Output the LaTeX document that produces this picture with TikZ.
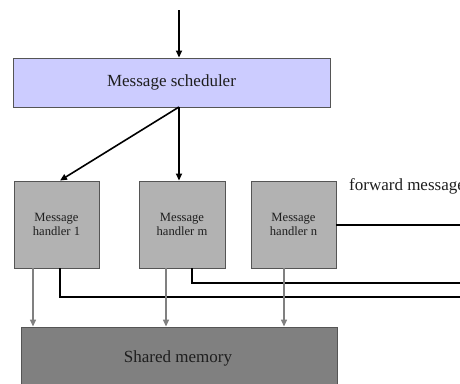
\documentclass[tikz,border=0pt]{standalone}
\usepackage{fontspec}
\setmainfont{Liberation Serif}
\usetikzlibrary{arrows.meta,calc}
\definecolor{schedfill}{RGB}{204,204,255}
\definecolor{handfill}{RGB}{178,178,178}
\definecolor{memfill}{RGB}{128,128,128}
\definecolor{edge}{RGB}{85,85,85}
\definecolor{txt}{RGB}{30,30,30}
\tikzset{
  box/.style={draw=edge, line width=0.9pt, minimum width=#1, inner sep=0pt, text=txt, align=center},
  handler/.style={box=85pt, minimum height=87pt, fill=handfill, font=\fontsize{12.6}{14}\selectfont},
  ctl/.style={line width=1.6pt, black, -{Triangle[length=7pt,width=6pt]}},
  fwd/.style={line width=1.6pt, black},
  mem/.style={line width=1.4pt, gray, -{Triangle[length=7pt,width=6pt]}},
}
\begin{document}
\begin{tikzpicture}[x=1pt,y=-1pt]
\useasboundingbox (0,0) rectangle (460,383);
\clip (0,0) rectangle (460,383);

% scheduler and handlers
\node[box=317pt, minimum height=49pt, fill=schedfill, font=\fontsize{17}{20}\selectfont] (sched) at (171.5,82.5) {Message scheduler};
\node[handler] (h1) at (56.5,224.5) {Message\\handler 1};
\node[handler, minimum width=86pt] (hm) at (182,224.5) {Message\\handler m};
\node[handler] (hn) at (293.5,224.5) {Message\\handler n};
\node[box=316pt, minimum height=68pt, fill=memfill, font=\fontsize{17}{20}\selectfont, text depth=0pt] (shm) at (179,361) {};
\node[text=txt, font=\fontsize{17}{20}\selectfont] (shmlabel) at (178,358) {Shared memory};

\node[anchor=west, inner sep=0pt, text=txt, font=\fontsize{17}{20}\selectfont] (fwdlabel) at (349,186) {forward message};

% incoming message and dispatch
\coordinate (in) at (179,10);
\coordinate (out) at (179,107);
\draw[ctl] (in) -- (in |- sched.north);
\draw[ctl] (out) -- (out |- hm.north);
\draw[ctl] (out) -- ($(h1.north)+(3.5,0)$);

% forwarded messages leaving to the right
\coordinate (fn) at (460,225);
\coordinate (fm) at (460,283);
\coordinate (f1) at (460,297);
\draw[fwd] (hn.east |- fn) -- (fn);
\draw[fwd] ($(hm.south)+(10,0)$) |- (fm);
\draw[fwd] ($(h1.south)+(3.5,0)$) |- (f1);

% access to shared memory
\draw[mem] (33,0 |- h1.south) -- (33,0 |- shm.north);
\draw[mem] (166,0 |- hm.south) -- (166,0 |- shm.north);
\draw[mem] (284,0 |- hn.south) -- (284,0 |- shm.north);
\end{tikzpicture}
\end{document}
